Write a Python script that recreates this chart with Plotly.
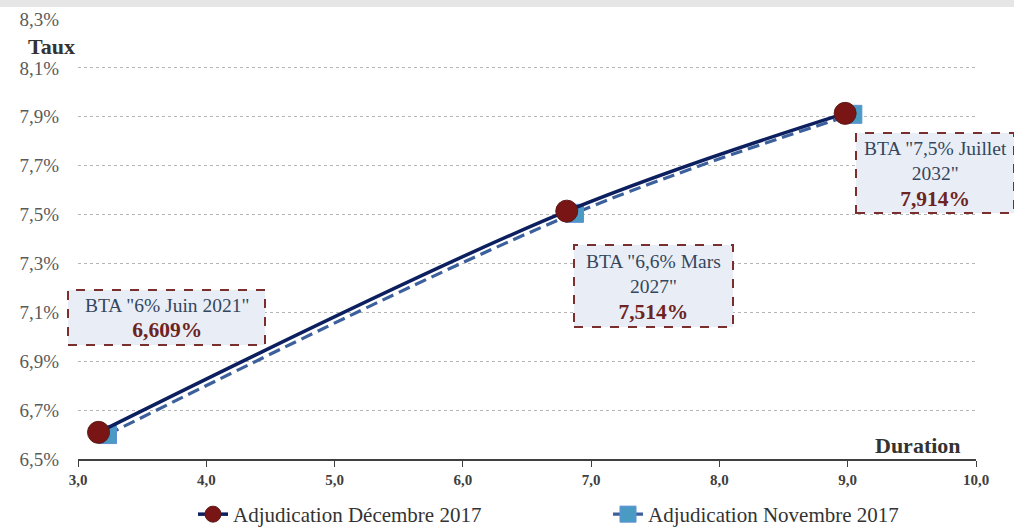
import plotly.graph_objects as go

# Data
dec_duration = [3.16, 6.81, 8.98]
dec_taux = [6.609, 7.514, 7.914]
nov_duration = [3.23, 6.87, 9.04]
nov_taux = [6.60, 7.505, 7.91]
labels = ['BTA "6% Juin 2021"', 'BTA "6,6% Mars<br>2027"', 'BTA "7,5% Juillet<br>2032"']
values_txt = ["6,609%", "7,514%", "7,914%"]
x_ticks = [3, 4, 5, 6, 7, 8, 9, 10]
x_ticktext = ["3,0", "4,0", "5,0", "6,0", "7,0", "8,0", "9,0", "10,0"]
y_ticks = [6.5, 6.7, 6.9, 7.1, 7.3, 7.5, 7.7, 7.9, 8.1, 8.3]
y_ticktext = ["6,5%", "6,7%", "6,9%", "7,1%", "7,3%", "7,5%", "7,7%", "7,9%", "8,1%", "8,3%"]

SERIF = "Liberation Serif"

fig = go.Figure()
fig.add_trace(go.Scatter(
    x=dec_duration, y=dec_taux, mode="lines+markers", name="Adjudication Décembre 2017",
    line=dict(color="#0c1f5e", width=3.5, shape="spline"),
    marker=dict(symbol="circle", size=22, color="#7a1515", line=dict(color="#5c1a1a", width=1)),
))
fig.add_trace(go.Scatter(
    x=nov_duration, y=nov_taux, mode="lines+markers", name="Adjudication Novembre 2017",
    line=dict(color="#3c609c", width=3.2, dash="12px,6px", shape="spline"),
    marker=dict(symbol="square", size=18, color="#4a9bc4", line=dict(color="#5d8fd6", width=1)),
))
fig.data = (fig.data[1], fig.data[0])

# Plot area geometry helpers (for label boxes)
L, R, T, B = 78, 38, 19, 69
W, H = 1014, 528
pw, ph = W - L - R, H - T - B
def px(x):
    return (x - L) / pw
def py(y):
    return (H - B - y) / ph

boxes = [(68, 265, 290, 345), (574, 733, 245, 327), (856, 1014, 133, 213)]
for (x0, x1, y0, y1), lab, val in zip(boxes, labels, values_txt):
    fig.add_shape(type="rect", xref="paper", yref="paper",
                  x0=px(x0), x1=px(x1), y0=py(y1), y1=py(y0),
                  line=dict(color="#7b2e2e", width=2, dash="dash"),
                  fillcolor="#e9eef6", layer="above")
    fig.add_annotation(xref="paper", yref="paper",
                       x=px((x0 + x1) / 2), y=py((y0 + y1) / 2 + 1),
                       xanchor="center", yanchor="middle",
                       text=f"{lab}<br><b><span style='color:#6e2323;font-size:21.5px'>{val}</span></b>",
                       showarrow=False, align="center",
                       font=dict(family=SERIF, size=19.5, color="#34465e"))

# gray band at top
fig.add_shape(type="rect", xref="paper", yref="paper", x0=-0.1, x1=1.05,
              y0=py(7), y1=py(0), line=dict(width=0), fillcolor="#e6e6e6", layer="below")

fig.add_annotation(xref="paper", yref="paper", x=px(51), y=py(47), xanchor="center", yanchor="middle",
                   text="<b>Taux</b>", showarrow=False,
                   font=dict(family=SERIF, size=22, color="#333333"))
fig.add_annotation(xref="paper", yref="paper", x=px(918), y=py(445), xanchor="center", yanchor="middle",
                   text="<b>Duration</b>", showarrow=False,
                   font=dict(family=SERIF, size=22, color="#333333"))

fig.update_layout(
    width=W, height=H,
    margin=dict(l=L, r=R, t=T, b=B, autoexpand=False),
    paper_bgcolor="white", plot_bgcolor="white",
    showlegend=True,
    legend=dict(orientation="h", x=px(193), xanchor="left", y=py(494), yanchor="top",
                font=dict(family=SERIF, size=21, color="#333333"),
                entrywidth=370, entrywidthmode="pixels", traceorder="reversed",
                bgcolor="rgba(0,0,0,0)"),
    xaxis=dict(range=[3, 10], tickvals=x_ticks, ticktext=x_ticktext,
               showgrid=False, zeroline=False, showline=True, linecolor="#404040", linewidth=1.5,
               ticks="outside", ticklen=6, tickcolor="#404040",
               tickfont=dict(family=SERIF, size=15, color="#404040", weight="bold")),
    yaxis=dict(range=[6.5, 8.3], tickvals=y_ticks, ticktext=y_ticktext,
               showgrid=True, gridcolor="#b5b5b5", griddash="dot", gridwidth=1,
               zeroline=False, showline=False, ticks="", ticklabelstandoff=18,
               tickfont=dict(family=SERIF, size=19, color="#5a5a5a")),
)

fig.write_html("out.html", config={"displayModeBar": False},
               post_script="document.body.style.margin='0';document.body.style.overflow='hidden';")
